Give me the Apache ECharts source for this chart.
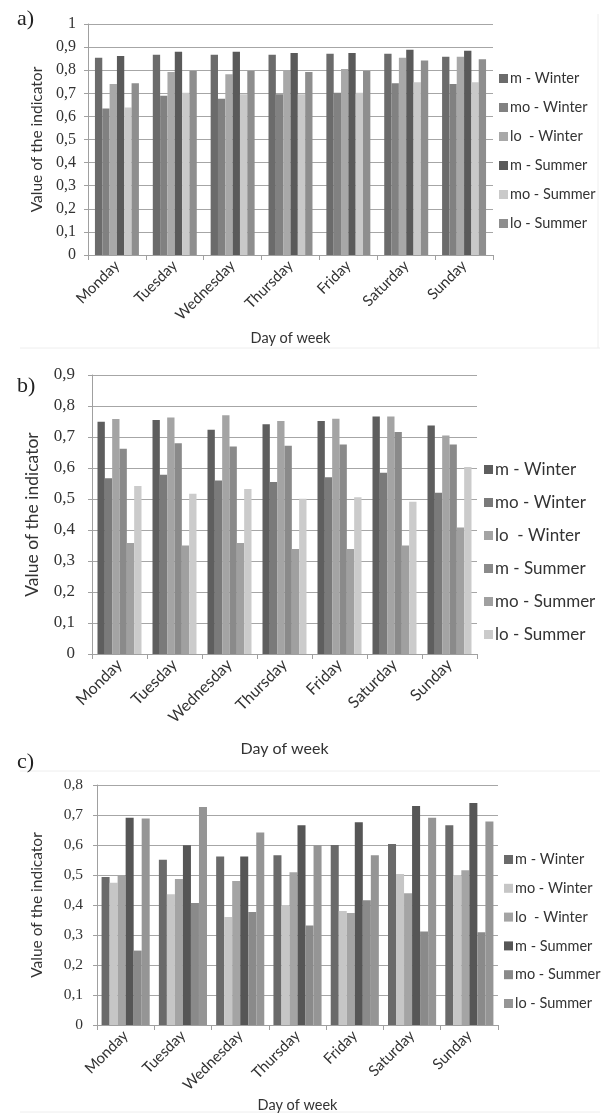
<!DOCTYPE html>
<html>
<head>
<meta charset="utf-8">
<script src="https://cdn.jsdelivr.net/npm/echarts@6/dist/echarts.min.js"></script>
<style>
	html, body { margin: 0; padding: 0; background: #fff; }
	#main { width: 607px; height: 1115px; }
</style>
</head>
<body>
<div id="main"></div>
<script>
// days of week + legend names
const days = ['Monday', 'Tuesday', 'Wednesday', 'Thursday', 'Friday', 'Saturday', 'Sunday']
const names = ['m - Winter', 'mo - Winter', 'lo  - Winter', 'm - Summer', 'mo - Summer', 'lo - Summer']

// panel a) values, one row per series
const panelA = [
	[0.854, 0.867, 0.867, 0.867, 0.871, 0.871, 0.858],
	[0.634, 0.689, 0.676, 0.696, 0.702, 0.744, 0.740],
	[0.740, 0.792, 0.783, 0.799, 0.805, 0.854, 0.858],
	[0.862, 0.880, 0.880, 0.874, 0.874, 0.889, 0.884],
	[0.638, 0.702, 0.696, 0.696, 0.702, 0.748, 0.748],
	[0.744, 0.797, 0.797, 0.792, 0.797, 0.842, 0.847]
]
// panel b)
const panelB = [
	[0.749, 0.755, 0.723, 0.741, 0.752, 0.766, 0.737],
	[0.567, 0.578, 0.560, 0.555, 0.570, 0.585, 0.520],
	[0.758, 0.763, 0.770, 0.752, 0.759, 0.766, 0.705],
	[0.662, 0.680, 0.669, 0.672, 0.676, 0.716, 0.676],
	[0.358, 0.350, 0.358, 0.339, 0.339, 0.350, 0.408],
	[0.542, 0.517, 0.532, 0.501, 0.506, 0.491, 0.603]
]
// panel c)
const panelC = [
	[0.493, 0.551, 0.562, 0.566, 0.600, 0.603, 0.666],
	[0.474, 0.436, 0.360, 0.400, 0.380, 0.503, 0.500],
	[0.500, 0.487, 0.480, 0.509, 0.373, 0.439, 0.516],
	[0.691, 0.599, 0.562, 0.666, 0.676, 0.730, 0.740],
	[0.248, 0.407, 0.377, 0.332, 0.416, 0.312, 0.309],
	[0.688, 0.727, 0.642, 0.599, 0.566, 0.691, 0.678]
]

const colorsA = ['#6b6b6b', '#818181', '#a8a8a8', '#5a5a5a', '#c9c9c9', '#8e8e8e']
const colorsB = ['#5e5e5e', '#7a7a7a', '#a4a4a4', '#8a8a8a', '#a0a0a0', '#cbcbcb']
const colorsC = ['#6a6a6a', '#c6c6c6', '#a4a4a4', '#565656', '#8a8a8a', '#959595']

const sans = 'Lato, "Open Sans", sans-serif'
const serif = '"Liberation Serif", serif'

function fmt(v) {
	return String(+v.toFixed(1)).replace('.', ',')
}

// one panel = grid + axes + legend + 6 series
const panels = [
	{ key: 'a', data: panelA, colors: colorsA, grid: { left: 88, top: 24, width: 405, height: 231 },
		max: 1, tickSize: 16, tickMargin: 12, labelSize: 15, nameSize: 14.5, ySize: 15.5, yGap: 40, xGap: 76, gap: '24%',
		titleTop: 3, legend: { left: 494, top: 66, size: 14.5, gap: 14 } },
	{ key: 'b', data: panelB, colors: colorsB, grid: { left: 92, top: 375, width: 385, height: 279 },
		max: 0.9, tickSize: 17, tickMargin: 17, labelSize: 16, nameSize: 16, ySize: 17.5, yGap: 51, xGap: 87, gap: '20%',
		titleTop: 370, legend: { left: 479, top: 456, size: 17, gap: 16 } },
	{ key: 'c', data: panelC, colors: colorsC, grid: { left: 97, top: 785, width: 401, height: 240 },
		max: 0.8, tickSize: 15.5, tickMargin: 14, labelSize: 15, nameSize: 14.5, ySize: 15.5, yGap: 52, xGap: 73, gap: '16%',
		titleTop: 746, legend: { left: 499, top: 847, size: 14.5, gap: 13.8 } }
]

var grids = [], xAxes = [], yAxes = [], legends = [], series = [], titles = []

panels.forEach(function (p, i) {
	grids.push(p.grid)
	titles.push({
		text: p.key + ')',
		left: 12,
		top: p.titleTop,
		textStyle: { fontFamily: serif, fontSize: 22, fontWeight: 'normal', color: '#222' }
	})
	xAxes.push({
		type: 'category',
		gridIndex: i,
		data: days,
		name: 'Day of week',
		nameLocation: 'middle',
		nameGap: p.xGap,
		nameTextStyle: { fontFamily: sans, fontSize: p.nameSize, color: '#333' },
		axisLine: { lineStyle: { color: '#a0a0a0' } },
		axisTick: { show: true, length: 5, lineStyle: { color: '#a0a0a0' } },
		axisLabel: { rotate: 45, interval: 0, fontFamily: sans, fontSize: p.labelSize, color: '#333', margin: 8 }
	})
	yAxes.push({
		type: 'value',
		gridIndex: i,
		min: 0,
		max: p.max,
		interval: 0.1,
		name: 'Value of the indicator',
		nameLocation: 'middle',
		nameRotate: 90,
		nameGap: p.yGap,
		nameTextStyle: { fontFamily: sans, fontSize: p.ySize, color: '#333' },
		axisLine: { show: true, lineStyle: { color: '#a0a0a0' } },
		axisTick: { show: true, length: 4, lineStyle: { color: '#a0a0a0' } },
		splitLine: { lineStyle: { color: '#a6a6a6' } },
		axisLabel: { fontFamily: serif, fontSize: p.tickSize, color: '#333', margin: p.tickMargin, formatter: fmt }
	})
	legends.push({
		orient: 'vertical',
		left: p.legend.left,
		top: p.legend.top,
		itemWidth: 9,
		itemHeight: 9,
		itemGap: p.legend.gap,
		icon: 'rect',
		selectedMode: false,
		data: names.map(function (n) { return p.key + '|' + n }),
		formatter: function (n) { return n.split('|')[1] },
		textStyle: { fontFamily: sans, fontSize: p.legend.size, color: '#333', padding: [0, 0, 0, -3] }
	})
	p.data.forEach(function (vals, j) {
		series.push({
			type: 'bar',
			name: p.key + '|' + names[j],
			xAxisIndex: i,
			yAxisIndex: i,
			data: vals,
			barGap: '0%',
			barCategoryGap: p.gap,
			itemStyle: { color: p.colors[j] }
		})
	})
})

var chart = echarts.init(document.getElementById('main'), null, { renderer: 'canvas' })
chart.setOption({
	animation: false,
	backgroundColor: '#fff',
	title: titles,
	grid: grids,
	xAxis: xAxes,
	yAxis: yAxes,
	legend: legends,
	series: series,
	graphic: [
		{ type: 'line', shape: { x1: 20, y1: 348, x2: 600, y2: 348 }, style: { stroke: '#eeeeee', lineWidth: 1 } },
		{ type: 'line', shape: { x1: 20, y1: 771, x2: 600, y2: 771 }, style: { stroke: '#eeeeee', lineWidth: 1 } },
		{ type: 'line', shape: { x1: 20, y1: 1112, x2: 600, y2: 1112 }, style: { stroke: '#eeeeee', lineWidth: 1 } },
		{ type: 'line', shape: { x1: 598, y1: 14, x2: 598, y2: 348 }, style: { stroke: '#eeeeee', lineWidth: 1 } }
	]
})
</script>
</body>
</html>
